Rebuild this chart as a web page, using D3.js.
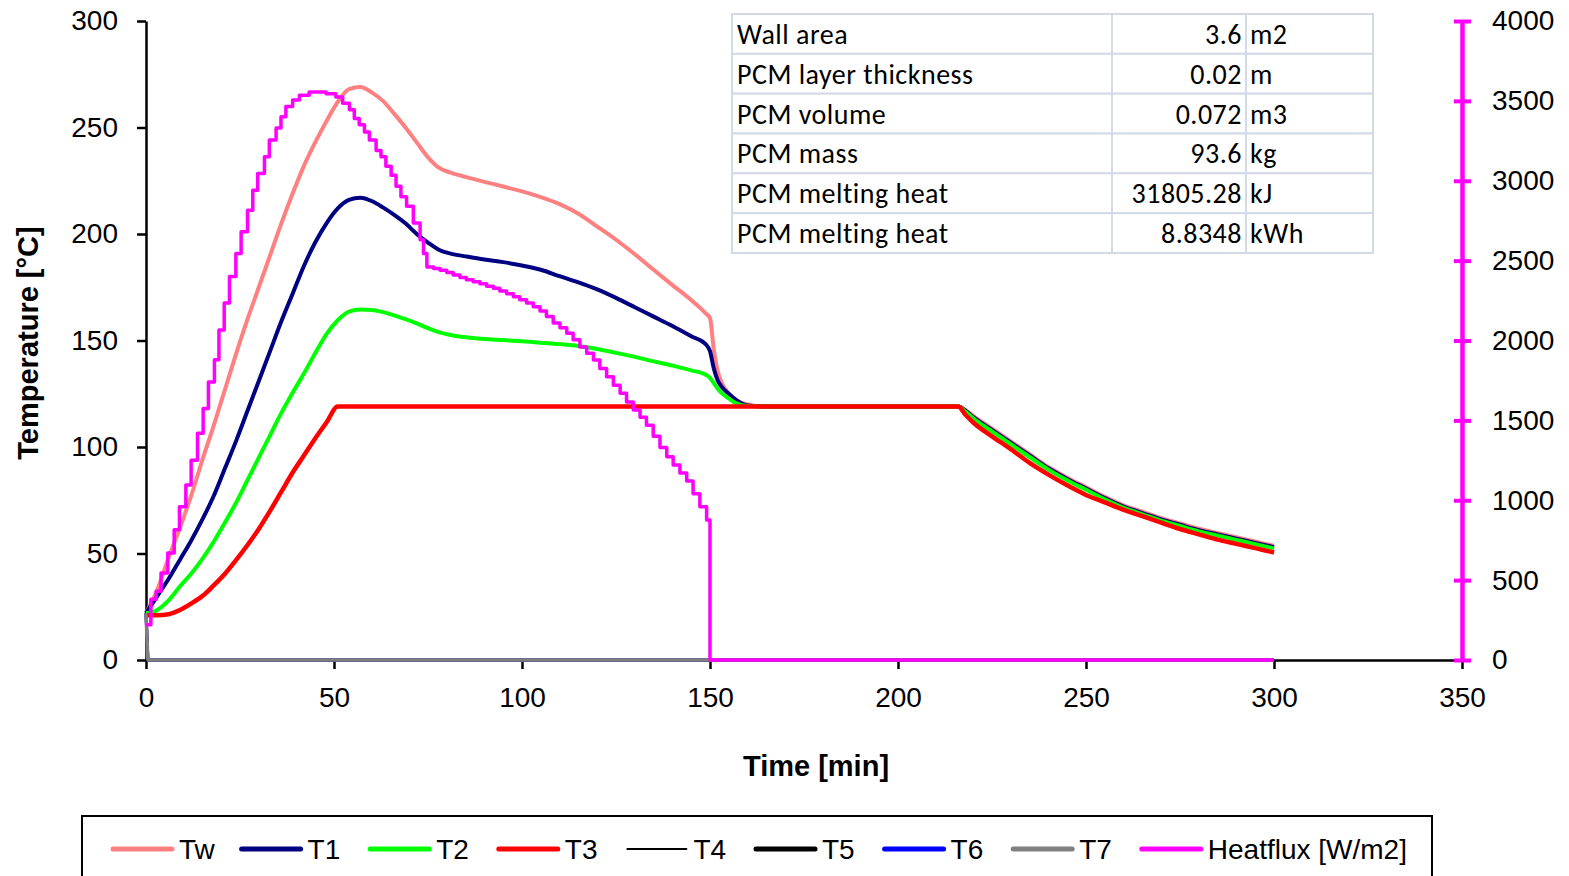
<!DOCTYPE html>
<html>
<head>
<meta charset="utf-8">
<script src="https://cdn.jsdelivr.net/npm/d3@7"></script>
<style>
  html, body { margin: 0; padding: 0; background: #ffffff; }
  svg { display: block; }
  .axis text { font-family: "Liberation Sans", Arial, sans-serif; font-size: 28px; fill: #000; }
  .title { font-family: "Liberation Sans", Arial, sans-serif; font-size: 29px; font-weight: bold; fill: #000; }
  .legend text { font-family: "Liberation Sans", Arial, sans-serif; font-size: 28px; fill: #000; }
  .info text { font-family: Carlito, Lato, sans-serif; font-size: 28px; letter-spacing: 0.5px; fill: #000; }
</style>
</head>
<body>
<svg id="chart" width="1569" height="876"></svg>
<script>
// ---- Data ---------------------------------------------------------------
// Time of each temperature sample [min]
const time = [0,3,6,9,12,15,18,21,24,27,30,33,36,39,42,45,48,51,54,57,60,63,66,69,72,75,78,81,
  85,90,95,100,105,110,115,120,125,130,135,140,145,
  149,150,151,152,153,155,157,160,165,
  216,218,220,
  225,230,235,240,245,250,255,260,265,270,275,280,285,290,295,300];

// Wall surface temperature [°C]
const Tw = [22,33,48,62,77,94,110,127,144,160,175,190,205,219,232,243,253,262,268,269,266.5,262.5,256.5,250,243,236,231,228.8,
  226.8,224.5,222.3,220,217.3,214,209.5,203.5,197.3,190.5,183.2,176,169,
  162.5,160.5,146,136,130.5,125,122,120,119,
  119,117.3,114.6,
  108.6,102.6,96.6,90.6,85.6,81.1,76.6,72.6,69.6,66.6,64.1,61.6,59.6,57.6,55.6,53.6];

// Sensor temperatures inside the PCM layer [°C]
const T1 = [22,30,38,47,56,66,77,90,103,117,131,145,159,172,185,196,205,212,216,217,215.5,212.5,209,205,200,196,192.5,190.8,
  189.5,188,186.8,185.2,183.2,180.2,177.3,174,170,165.6,161.2,156.8,152,
  148,145,137,131.5,128.5,125,122,119.5,119,
  119,117,114,
  108,102,96,90,85,80.5,76,72,69,66,63.5,61,59,57,55,53];

const T2 = [22,23.5,28,34.5,40.5,47.5,55.5,64.5,74,84.5,95,105.5,116,125.5,134.5,144,153,159.5,163.5,164.5,164.3,163.3,161.8,160,158,155.8,153.8,152.6,
  151.5,150.7,150.2,149.6,149,148.3,147.4,146,144.2,142.3,140.2,138.2,136,
  133.8,132.5,130,127.5,125.5,122.8,120.5,119.2,119,
  119,116.5,113.5,
  107.3,101.3,95.3,89.4,84.4,79.9,75.4,71.4,68.4,65.4,62.9,60.4,58.4,56.4,54.4,52.4];

const T3 = [21,21,21.5,23.5,26.5,30,35,40.5,47,54,61.5,70,79,88,96,104,111.5,119,119,119,119,119,119,119,119,119,119,119,
  119,119,119,119,119,119,119,119,119,119,119,119,119,
  119,119,119,119,119,119,119,119,119,
  119,115,111.5,
  105,99,92.5,87,82,77.5,74,70.5,67.5,64.5,61.5,59,56.5,54.5,52.5,50.5];

// Unused channels: start reading, then zero for the rest of the test
const offTime = [0,0.5,300];
const T4 = [22,0,0];
const T5 = [22,0,0];
const T6 = [22,0,0];
const T7 = [22,0,0];

// Heat flux into the wall [W/m2], logged as held steps
const hfTime = [0,1.3,2.7,4.0,5.8,7.5,8.9,10.6,12.0,13.7,15.2,16.6,18.2,19.4,20.8,22.2,23.9,25.3,27.0,28.4,29.7,
  31.5,32.8,34.6,35.9,37.2,39.0,40.8,43.4,47.9,50.5,52.3,54.1,55.4,56.7,58.1,59.4,61.2,62.5,63.8,65.2,66.5,67.8,
  69.3,71.1,72.9,73.8,74.7,76.5,78.2,80.0,81.7,83.5,85.2,87.0,88.8,90.6,92.4,94.1,95.9,97.7,99.4,101.2,103.0,
  104.8,106.5,108.3,110.1,111.9,113.6,115.4,117.2,119.0,120.7,122.5,124.3,126.1,127.8,129.6,131.4,133.1,134.9,
  136.7,138.5,140.2,142.0,143.8,145.5,147.3,149.1,150.0,300];
const hfValue = [220,380,430,545,670,815,960,1095,1250,1420,1575,1740,1880,2065,2235,2400,2545,2680,2815,2940,3045,
  3150,3255,3330,3400,3465,3505,3535,3555,3545,3525,3485,3445,3390,3350,3305,3255,3190,3150,3090,3035,2965,2900,
  2840,2735,2630,2545,2460,2450,2440,2425,2410,2395,2380,2368,2355,2340,2327,2310,2292,2274,2255,2235,2212,
  2185,2150,2110,2080,2045,2005,1960,1920,1878,1825,1773,1720,1670,1615,1565,1520,1470,1400,
  1330,1273,1220,1170,1120,1040,960,876,0,0];

// Axis ticks
const xTicks = [0,50,100,150,200,250,300,350];
const yTicks = [0,50,100,150,200,250,300];
const y2Ticks = [0,500,1000,1500,2000,2500,3000,3500,4000];

// Wall / PCM summary table
const infoLabels = ["Wall area","PCM layer thickness","PCM volume","PCM mass","PCM melting heat","PCM melting heat"];
const infoValues = ["3.6","0.02","0.072","93.6","31805.28","8.8348"];
const infoUnits  = ["m2","m","m3","kg","kJ","kWh"];

// ---- Chart ---------------------------------------------------------------
const svg = d3.select("#chart");
const plotLeft = 146, plotRight = 1462, plotTop = 21, plotBottom = 660;

const x  = d3.scaleLinear().domain([0,350]).range([plotLeft,plotRight]);
const y  = d3.scaleLinear().domain([0,300]).range([plotBottom,plotTop]);
const y2 = d3.scaleLinear().domain([0,4000]).range([plotBottom,plotTop]);

svg.append("rect").attr("width",1569).attr("height",876).attr("fill","#fff");

// Summary table
const tbl = svg.append("g").attr("class","info");
const tX = [732,1112,1246,1373];
const rowH = 39.83, tTop = 14;
const cellStroke = "#d3dae6";
infoLabels.forEach((lab,i) => {
  const ry = tTop + i*rowH;
  for (let c = 0; c < 3; c++) {
    tbl.append("rect").attr("x",tX[c]).attr("y",ry).attr("width",tX[c+1]-tX[c]).attr("height",rowH)
      .attr("fill","#fff").attr("stroke",cellStroke).attr("stroke-width",2);
  }
  tbl.append("text").attr("x",tX[0]+5).attr("y",ry+30).text(lab);
  tbl.append("text").attr("x",tX[2]-4).attr("y",ry+30).attr("text-anchor","end").text(infoValues[i]);
  tbl.append("text").attr("x",tX[2]+4).attr("y",ry+30).text(infoUnits[i]);
});

// Axes
const gx = svg.append("g").attr("class","axis").attr("transform",`translate(0,${plotBottom})`)
  .call(d3.axisBottom(x).tickValues(xTicks).tickSize(9).tickSizeOuter(0).tickPadding(18));
const gy = svg.append("g").attr("class","axis").attr("transform",`translate(${plotLeft},0)`)
  .call(d3.axisLeft(y).tickValues(yTicks).tickSize(9).tickSizeOuter(0).tickPadding(19));
[gx,gy].forEach(g => {
  g.select(".domain").attr("stroke","#000").attr("stroke-width",2.5);
  g.selectAll(".tick line").attr("stroke","#000").attr("stroke-width",2.5);
});

// Temperature series
const tempLine = arr => d3.line().curve(d3.curveMonotoneX)
  .x((d,i) => x(time[i])).y(d => y(d))(arr);
const offLine = arr => d3.line().x((d,i) => x(offTime[i])).y(d => y(d))(arr);

const plot = svg.append("g").attr("fill","none").attr("stroke-linejoin","round");
plot.append("path").attr("d",tempLine(Tw)).attr("stroke","#ff8080").attr("stroke-width",4);
plot.append("path").attr("d",tempLine(T1)).attr("stroke","#000080").attr("stroke-width",4);
plot.append("path").attr("d",tempLine(T2)).attr("stroke","#00ff00").attr("stroke-width",4);
plot.append("path").attr("d",tempLine(T3)).attr("stroke","#ff0000").attr("stroke-width",4.5);
plot.append("path").attr("d",offLine(T4)).attr("stroke","#000000").attr("stroke-width",1.5);
plot.append("path").attr("d",offLine(T5)).attr("stroke","#000000").attr("stroke-width",3);
plot.append("path").attr("d",offLine(T6)).attr("stroke","#0000ff").attr("stroke-width",3);
plot.append("path").attr("d",offLine(T7)).attr("stroke","#808080").attr("stroke-width",3.5);

// Heat flux on the secondary axis
const hfLine = d3.line().curve(d3.curveStepAfter)
  .x((d,i) => x(hfTime[i])).y(d => y2(d));
plot.append("path").attr("d",hfLine(hfValue)).attr("stroke","#ff00ff").attr("stroke-width",3.5);

// Secondary axis (heat flux)
const gy2 = svg.append("g").attr("class","axis").attr("transform",`translate(${plotRight},0)`)
  .call(d3.axisRight(y2).tickValues(y2Ticks).tickFormat(d3.format("d"))
    .tickSize(9).tickSizeOuter(0).tickPadding(21));
gy2.select(".domain").attr("stroke","#ff00ff").attr("stroke-width",4.5);
gy2.selectAll(".tick line").attr("stroke","#ff00ff").attr("stroke-width",4).attr("x1",-8).attr("x2",9);

// Axis titles
svg.append("text").attr("class","title").attr("x",816).attr("y",776).attr("text-anchor","middle").text("Time [min]");
svg.append("text").attr("class","title").attr("text-anchor","middle")
  .attr("transform","translate(38,343) rotate(-90)").text("Temperature [°C]");

// Legend
const legendItems = [
  {name:"Tw", color:"#ff8080", w:5},
  {name:"T1", color:"#000080", w:5},
  {name:"T2", color:"#00ff00", w:5},
  {name:"T3", color:"#ff0000", w:5},
  {name:"T4", color:"#000000", w:2},
  {name:"T5", color:"#000000", w:5},
  {name:"T6", color:"#0000ff", w:5},
  {name:"T7", color:"#808080", w:5},
  {name:"Heatflux [W/m2]", color:"#ff00ff", w:5}
];
const lg = svg.append("g").attr("class","legend");
lg.append("rect").attr("x",82).attr("y",816).attr("width",1350).attr("height",80)
  .attr("fill","#fff").attr("stroke","#000").attr("stroke-width",2);
legendItems.forEach((it,i) => {
  const lx = 113 + i*128.6;
  lg.append("line").attr("x1",lx).attr("x2",lx+59).attr("y1",849).attr("y2",849)
    .attr("stroke",it.color).attr("stroke-width",it.w).attr("stroke-linecap","round");
  lg.append("text").attr("x",lx+66).attr("y",859).text(it.name);
});
</script>
</body>
</html>
